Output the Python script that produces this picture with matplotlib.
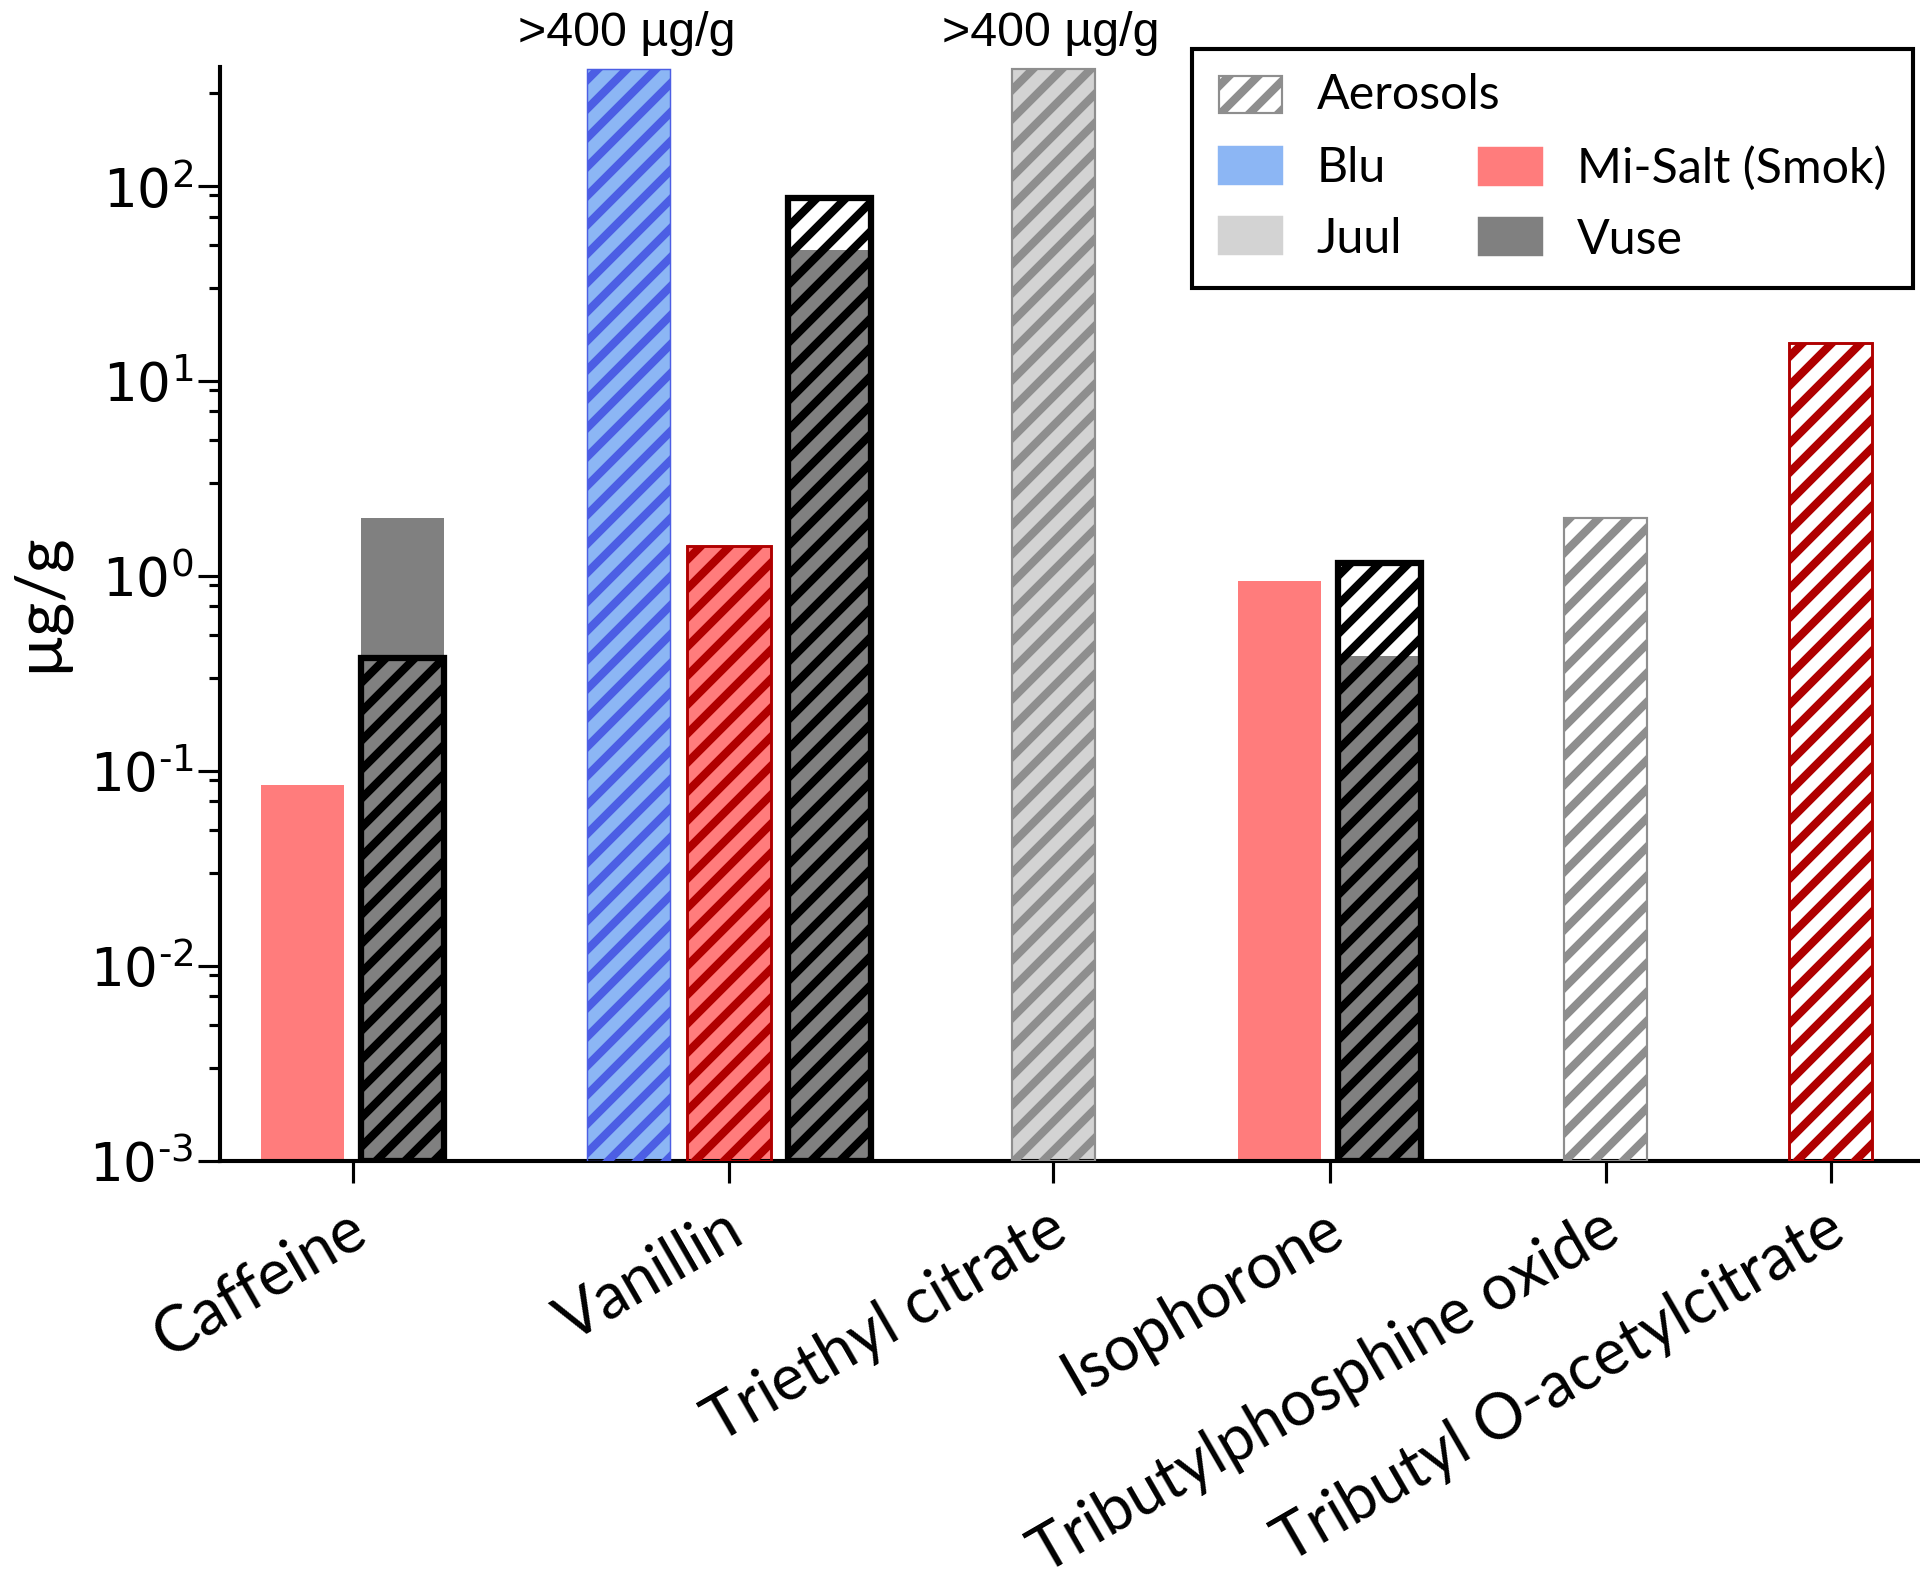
import numpy as np
import matplotlib
matplotlib.use('Agg')
import matplotlib.pyplot as plt
from matplotlib.patches import Rectangle
from matplotlib.transforms import ScaledTranslation

plt.rcParams['font.family'] = ['Lato', 'DejaVu Sans']
plt.rcParams['hatch.linewidth'] = 3.4

# data
compounds = ['Caffeine', 'Vanillin', 'Triethyl citrate', 'Isophorone',
             'Tributylphosphine oxide', 'Tributyl O-acetylcitrate']
bar_compound = [0, 0, 1, 1, 1, 2, 3, 3, 4, 5]
bar_brand = ['Mi-Salt', 'Vuse', 'Blu', 'Mi-Salt', 'Vuse', 'Juul',
             'Mi-Salt', 'Vuse', 'Juul', 'Mi-Salt']
liquid = [0.085, 2.0, 400, 1.43, 47, 400, 0.94, 0.39, np.nan, np.nan]
aerosol = [np.nan, 0.38, 400, 1.43, 87, 400, np.nan, 1.17, 2.0, 15.7]

# styles
fill = {'Blu': '#8cb6f4', 'Mi-Salt': '#ff7c7c', 'Juul': '#d3d3d3', 'Vuse': '#808080'}
hatchc = {'Blu': '#4c5ee4', 'Mi-Salt': '#b00000', 'Juul': '#8e8e8e', 'Vuse': '#000000'}
edge_lw = {'Blu': 0.6, 'Mi-Salt': 1.2, 'Juul': 0.9, 'Vuse': 2.6}
group_x = [1.32, 5.07, 8.30, 11.05, 13.80, 16.04]
width = 0.83

fig = plt.figure(figsize=(1920/174, 1586/174), dpi=174)
ax = fig.add_axes([0.1146, 0.268, 0.8854, 0.6898])
ax.set_yscale('log')
ymin = 1e-3

# bar positions inside each group
xpos = []
for i, g in enumerate(bar_compound):
    members = [j for j, c in enumerate(bar_compound) if c == g]
    k = members.index(i)
    xpos.append(group_x[g] + (k - (len(members) - 1) / 2))

for i in range(len(xpos)):
    b = bar_brand[i]
    if not np.isnan(liquid[i]):
        ax.bar(xpos[i], liquid[i] - ymin, bottom=ymin, width=width,
               color=fill[b], linewidth=0, zorder=2)
    if not np.isnan(aerosol[i]):
        ax.bar(xpos[i], aerosol[i] - ymin, bottom=ymin, width=width,
               facecolor='none', edgecolor=hatchc[b], hatch='//',
               linewidth=edge_lw[b], zorder=3)
        if aerosol[i] >= 400:
            ax.annotate('>400 \u00b5g/g', xy=(xpos[i], aerosol[i]),
                        xytext=(-1, 14.5), textcoords='offset points',
                        ha='center', va='center', fontsize=20,
                        family='Liberation Sans')

ax.set_xlim(0, 16.93)
ax.set_ylim(ymin, 410)

ax.spines['top'].set_visible(False)
ax.spines['right'].set_visible(False)
for s in ['left', 'bottom']:
    ax.spines[s].set_linewidth(1.7)

yt = [1e-3, 1e-2, 1e-1, 1, 10, 100]
ax.set_yticks(yt)
ax.set_yticklabels(['$10^{\u2010 3}$', '$10^{\u2010 2}$', '$10^{\u2010 1}$', '$10^{0}$',
                    '$10^{1}$', '$10^{2}$'], fontsize=22, family='DejaVu Sans')
minor = [m * 10.0**k for k in range(-3, 3) for m in (3, 5, 7, 9)]
ax.set_yticks([v for v in minor if v < 410], minor=True)
ax.yaxis.set_minor_formatter(plt.NullFormatter())
ax.tick_params(axis='y', which='major', length=9, width=1.3, pad=2)
ax.tick_params(axis='y', which='minor', length=4.5, width=1.3)

ax.set_xticks(group_x)
ax.set_xticklabels(compounds, rotation=30, ha='right', va='top',
                   rotation_mode='anchor', fontsize=26)
ax.tick_params(axis='x', length=9, width=1.3, pad=7)
for lab in ax.get_xticklabels():
    lab.set_transform(lab.get_transform() + ScaledTranslation(-6/174, 0, fig.dpi_scale_trans))

ax.set_ylabel('\u00b5g/g', fontsize=27)
ax.yaxis.set_label_coords(-0.1066, 0.511)
ax.yaxis.label.set_va('center')

# legend
h_aer = Rectangle((0, 0), 1, 1, facecolor='white', edgecolor='#8e8e8e',
                  hatch='//', linewidth=0.9)
h_blank = Rectangle((0, 0), 1, 1, visible=False)
handles = [h_aer,
           Rectangle((0, 0), 1, 1, color=fill['Blu']),
           Rectangle((0, 0), 1, 1, color=fill['Juul']),
           h_blank,
           Rectangle((0, 0), 1, 1, color=fill['Mi-Salt']),
           Rectangle((0, 0), 1, 1, color=fill['Vuse'])]
labels = ['', 'Blu', 'Juul', '', 'Mi-Salt (Smok)', 'Vuse']
leg = ax.legend(handles, labels, ncol=2, loc='upper right',
                bbox_to_anchor=(1913/1920, 1 - 49/1586),
                bbox_transform=fig.transFigure, borderaxespad=0,
                fontsize=20, handlelength=1.3, handleheight=0.8,
                handletextpad=0.72, columnspacing=1.6, labelspacing=0.55,
                borderpad=0.55, fancybox=False, framealpha=1)
leg.get_frame().set_edgecolor('black')
leg.get_frame().set_linewidth(1.7)
ax.annotate('Aerosols', xy=(1, 0.5), xycoords=leg.legend_handles[0],
            xytext=(0.72*20, 0), textcoords='offset points',
            va='center', ha='left', fontsize=20, zorder=10)

fig.savefig('out.png', dpi=174)
